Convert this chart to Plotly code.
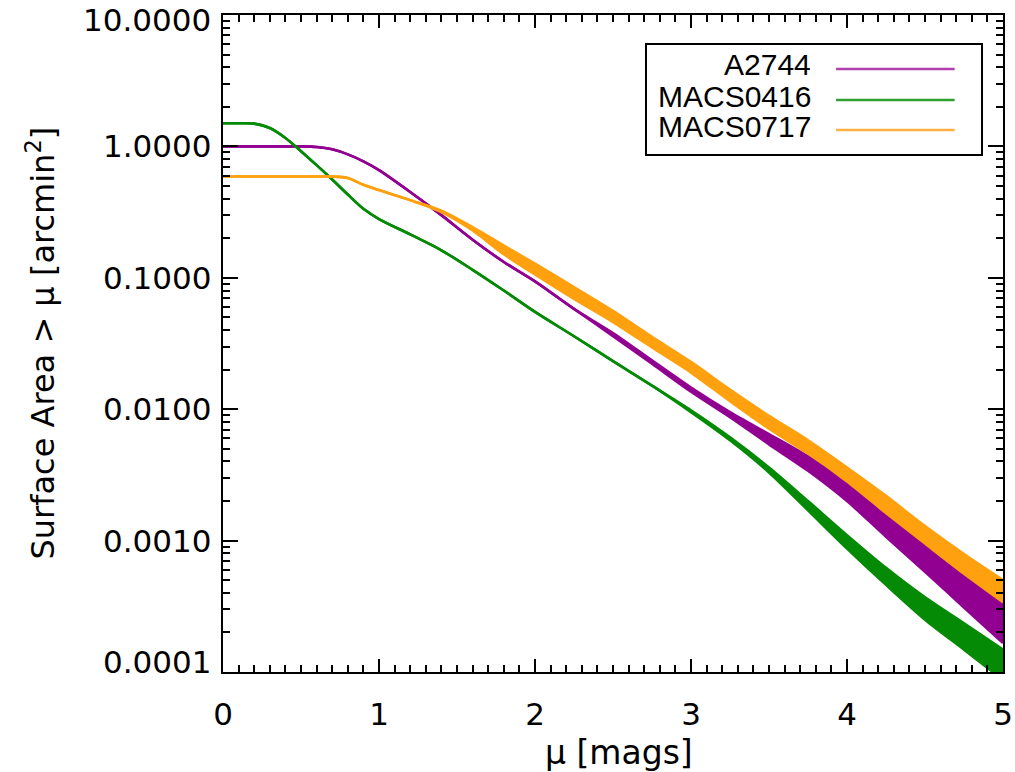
import math
import plotly.graph_objects as go

# Magnitude grid (mu, mags)
mu = [0.0, 0.1, 0.2, 0.3, 0.4, 0.5, 0.6, 0.7, 0.8, 0.9, 1.0, 1.2, 1.4, 1.6, 1.8,
      2.0, 2.25, 2.5, 2.75, 3.0, 3.25, 3.5, 3.75, 4.0, 4.25, 4.5, 4.75, 5.0]

# Cumulative surface area > mu [arcmin^2], upper and lower envelopes per cluster
a2744_hi = [1.0, 1.0, 1.0, 1.0, 1.0, 1.0, 0.99, 0.95, 0.87, 0.77, 0.66, 0.45, 0.30, 0.195, 0.132,
            0.094, 0.058, 0.038, 0.0235, 0.0146, 0.0095, 0.00646, 0.00437, 0.00275, 0.00158, 0.00093, 0.00056, 0.00034]
a2744_lo = [1.0, 1.0, 1.0, 1.0, 1.0, 1.0, 0.99, 0.95, 0.87, 0.77, 0.66, 0.45, 0.30, 0.195, 0.132,
            0.094, 0.058, 0.036, 0.0222, 0.0136, 0.0087, 0.0054, 0.0034, 0.0020, 0.00107, 0.00058, 0.00031, 0.000166]

macs0416_hi = [1.5, 1.5, 1.49, 1.38, 1.16, 0.92, 0.72, 0.56, 0.43, 0.335, 0.28, 0.214, 0.162, 0.115, 0.080,
               0.055, 0.0359, 0.0232, 0.0151, 0.0098, 0.0061, 0.0036, 0.002, 0.0011, 0.00062, 0.00037, 0.000235, 0.000148]
macs0416_lo = [1.5, 1.5, 1.49, 1.38, 1.16, 0.92, 0.72, 0.56, 0.43, 0.335, 0.28, 0.214, 0.162, 0.115, 0.080,
               0.055, 0.0359, 0.0232, 0.0151, 0.0095, 0.0058, 0.0033, 0.0017, 0.00087, 0.00046, 0.00025, 0.000148, 0.000087]

macs0717_hi = [0.59, 0.59, 0.59, 0.59, 0.59, 0.59, 0.59, 0.59, 0.575, 0.51, 0.465, 0.39, 0.324, 0.243, 0.176,
               0.128, 0.085, 0.056, 0.0355, 0.0229, 0.0141, 0.0089, 0.0058, 0.0036, 0.00219, 0.00129, 0.00079, 0.0005]
macs0717_lo = [0.59, 0.59, 0.59, 0.59, 0.59, 0.59, 0.59, 0.59, 0.575, 0.51, 0.465, 0.39, 0.316, 0.229, 0.151,
               0.106, 0.069, 0.046, 0.0295, 0.019, 0.0115, 0.0071, 0.0046, 0.00282, 0.00162, 0.00095, 0.00056, 0.00034]

names = ["A2744", "MACS0416", "MACS0717"]
colors = ["#910091", "#058a05", "#ffa10f"]
legend_colors = ["#b040b0", "#30a030", "#ffb040"]
bands = [(a2744_lo, a2744_hi), (macs0416_lo, macs0416_hi), (macs0717_lo, macs0717_hi)]

y_tickvals = [10, 1, 0.1, 0.01, 0.001, 0.0001]
y_ticktext = ["10.0000", "1.0000", "0.1000", "0.0100", "0.0010", "0.0001"]
x_tickvals = [0, 1, 2, 3, 4, 5]
x_ticktext = ["0", "1", "2", "3", "4", "5"]

fig = go.Figure()
for name, color, (lo, hi) in zip(names, colors, bands):
    fig.add_trace(go.Scatter(x=mu, y=lo, mode="lines", name=name,
                             line=dict(color=color, width=2.6, shape="spline", smoothing=0.8),
                             showlegend=False, hoverinfo="skip"))
    fig.add_trace(go.Scatter(x=mu, y=hi, mode="lines", name=name, fill="tonexty",
                             fillcolor=color,
                             line=dict(color=color, width=2.6, shape="spline", smoothing=0.8),
                             showlegend=False))

axis_font = dict(family="DejaVu Sans", size=31, color="black")

minor_y = [k * 10.0 ** e for e in range(-4, 1) for k in range(2, 10)]
minor_x = [i / 10 for i in range(51) if i % 10 != 0]

fig.update_xaxes(range=[0, 5], showgrid=False, zeroline=False, automargin=False,
                 showline=True, linecolor="black", linewidth=2, mirror="ticks",
                 ticks="inside", ticklen=13, tickwidth=2, tickcolor="black",
                 tickvals=x_tickvals, ticktext=x_ticktext, tickfont=axis_font,
                 ticklabelstandoff=14, ticklabeloverflow="allow",
                 minor=dict(ticks="inside", ticklen=7, tickwidth=1.5, tickcolor="black",
                            tickvals=minor_x, showgrid=False))
fig.update_yaxes(type="log", range=[-4, 1], showgrid=False, zeroline=False, automargin=False,
                 showline=True, linecolor="black", linewidth=2, mirror="ticks",
                 ticks="inside", ticklen=15, tickwidth=2, tickcolor="black",
                 tickvals=y_tickvals, showticklabels=False,
                 minor=dict(ticks="inside", ticklen=7, tickwidth=1.5, tickcolor="black",
                            tickvals=minor_y, showgrid=False))

# Y tick labels: end labels are nudged inward so they stay inside the page
for i, (v, t) in enumerate(zip(y_tickvals, y_ticktext)):
    shift = -5 if i == 0 else (10 if i == len(y_tickvals) - 1 else 0)
    fig.add_annotation(text=t, xref="paper", yref="y", x=0, y=math.log10(v),
                       xshift=-10, yshift=shift, showarrow=False,
                       xanchor="right", yanchor="middle", font=axis_font)

# Axis titles
fig.add_annotation(text="\u03bc [mags]", xref="paper", yref="paper", x=0.5, y=0,
                   xshift=6, yshift=-80, showarrow=False, xanchor="center", yanchor="middle",
                   font=dict(family="DejaVu Sans", size=33, color="black"))
fig.add_annotation(text="Surface Area > \u03bc [arcmin<sup>2</sup>]", xref="paper", yref="paper",
                   x=0, y=0.5, xshift=-183, textangle=-90, showarrow=False,
                   xanchor="center", yanchor="middle",
                   font=dict(family="DejaVu Sans", size=32, color="black"))

# Legend box with right-aligned labels and line samples
fig.add_shape(type="rect", xref="paper", yref="paper", x0=0.5423, x1=0.9731, y0=0.7869, y1=0.9559,
              line=dict(color="black", width=2), fillcolor="white", layer="above")
text_rows = [0.9254, 0.8767, 0.8311]
line_rows = [0.9178, 0.8706, 0.8250]
for name, lc, yt, yl in zip(names, legend_colors, text_rows, line_rows):
    fig.add_annotation(text=name, xref="paper", yref="paper", x=0.7564, y=yt, showarrow=False,
                       xanchor="right", yanchor="middle", height=28, valign="middle",
                       font=dict(family="Liberation Sans", size=30, color="black"))
    fig.add_shape(type="line", xref="paper", yref="paper", x0=0.786, x1=0.938, y0=yl, y1=yl,
                  line=dict(color=lc, width=2.5), layer="above")

fig.update_layout(width=1015, height=772, margin=dict(l=223, r=12, t=15, b=100, autoexpand=False),
                  paper_bgcolor="white", plot_bgcolor="white", showlegend=False)

fig.write_html("out.html")
